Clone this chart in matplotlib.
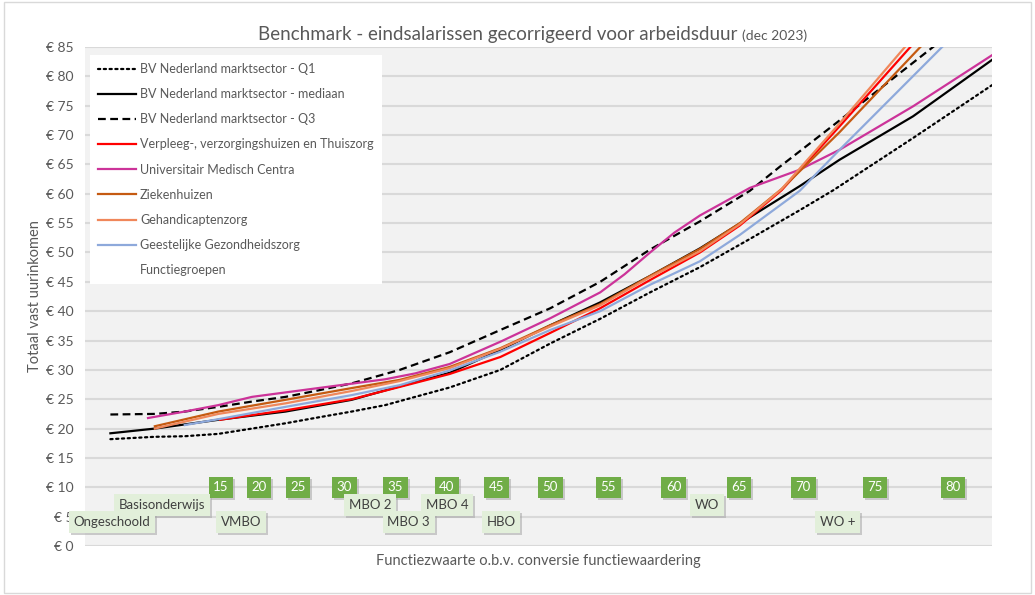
import numpy as np
import matplotlib
matplotlib.use("Agg")
import matplotlib.pyplot as plt
from matplotlib.lines import Line2D
from matplotlib.patches import Rectangle
from matplotlib.transforms import IdentityTransform

plt.rcParams['font.family'] = ['Lato', 'DejaVu Sans']
grey = '#595959'

# x = horizontal position on the chart (0..100), y = euro per hour
q1_x = [2.8, 7.7, 11.0, 14.7, 18.4, 22.1, 25.7, 29.4, 33.1, 36.4, 40.2, 45.8, 51.3, 56.8, 62.3, 67.8, 73.3, 78.8, 82.5, 91.3, 100]
q1_y = [18.2, 18.6, 18.7, 19.1, 20.0, 20.9, 21.9, 22.9, 24.0, 25.4, 27.0, 30.0, 34.5, 38.7, 43.2, 47.5, 52.3, 57.2, 60.6, 69.5, 78.5]

med_x = [2.8, 7.7, 14.7, 22.1, 29.4, 34.7, 40.2, 45.8, 51.3, 56.8, 62.3, 67.8, 73.3, 78.8, 83.2, 91.3, 100]
med_y = [19.2, 20.0, 21.5, 22.9, 24.9, 27.2, 29.5, 33.4, 37.6, 41.5, 46.0, 50.7, 56.0, 61.3, 65.8, 73.2, 82.8]

q3_x = [2.8, 7.7, 11.0, 14.7, 18.4, 22.1, 25.7, 29.4, 34.7, 40.2, 45.8, 51.3, 56.8, 62.3, 67.8, 73.3, 76.6, 83.2, 93.5, 100]
q3_y = [22.4, 22.5, 22.9, 23.7, 24.6, 25.4, 26.5, 27.7, 30.0, 33.0, 36.8, 40.5, 45.0, 50.5, 55.3, 60.5, 64.6, 72.5, 85.0, 93.0]

vvt_x = [14.9, 18.4, 22.1, 29.4, 34.7, 40.2, 45.8, 51.3, 56.8, 62.3, 67.8, 72.2, 76.8, 83.2, 91.0, 95.0]
vvt_y = [21.5, 22.3, 23.1, 25.0, 27.1, 29.3, 32.2, 36.3, 40.5, 45.3, 50.0, 54.6, 60.6, 71.5, 85.0, 92.0]

umc_x = [6.95, 11.0, 14.7, 18.4, 25.7, 33.1, 36.4, 40.2, 45.8, 51.3, 56.8, 59.5, 62.3, 65.0, 67.8, 73.3, 78.8, 83.2, 91.3, 100]
umc_y = [21.8, 22.9, 24.0, 25.4, 26.9, 28.4, 29.4, 31.0, 34.8, 38.8, 43.2, 46.3, 50.0, 53.4, 56.3, 61.0, 64.1, 67.5, 74.9, 83.6]

zkh_x = [7.7, 14.7, 22.1, 29.4, 34.7, 40.2, 45.8, 51.3, 56.8, 62.3, 67.8, 72.2, 76.8, 83.2, 92.1, 96.0]
zkh_y = [20.4, 22.9, 24.9, 26.9, 28.3, 30.5, 33.7, 37.6, 41.2, 46.0, 50.6, 55.0, 60.8, 70.5, 85.0, 91.0]

ghz_x = [7.7, 14.7, 22.1, 29.4, 34.7, 40.2, 45.8, 51.3, 56.8, 62.3, 67.8, 72.2, 76.8, 83.2, 90.4, 95.0]
ghz_y = [20.0, 22.5, 24.3, 26.4, 28.1, 30.3, 33.6, 37.4, 41.0, 45.8, 50.2, 54.8, 60.8, 72.0, 85.0, 93.0]

ggz_x = [11.0, 14.7, 22.1, 29.4, 34.7, 40.2, 45.8, 51.3, 56.8, 62.3, 67.8, 72.2, 78.8, 83.2, 94.5, 98.0]
ggz_y = [20.6, 21.6, 23.7, 25.7, 27.4, 29.9, 33.1, 36.8, 40.0, 44.5, 48.5, 53.0, 60.5, 67.5, 85.0, 90.0]

# functiezwaarte markers (green boxes)
fz_labels = ['15', '20', '25', '30', '35', '40', '45', '50', '55', '60', '65', '70', '75', '80']
fz_x = [15.0, 19.2, 23.5, 28.6, 34.2, 39.9, 45.4, 51.3, 57.7, 64.9, 72.1, 79.2, 87.1, 95.7]
fz_y = 10

# functiegroepen (light green boxes)
fg_labels = ['Ongeschoold', 'Basisonderwijs', 'VMBO', 'MBO 2', 'MBO 3', 'MBO 4', 'HBO', 'WO', 'WO +']
fg_x = [3.0, 8.5, 17.2, 31.4, 35.7, 39.9, 45.9, 68.6, 83.0]
fg_y = [4.1, 7.0, 4.1, 7.0, 4.1, 7.0, 4.1, 7.0, 4.1]

fig = plt.figure(figsize=(10.35, 5.95), dpi=100)
fig.patches.append(Rectangle((0.004, 0.004), 0.992, 0.992, transform=fig.transFigure,
                             fill=False, edgecolor='#D9D9D9', linewidth=1))
ax = fig.add_axes([85 / 1035, 1 - 546 / 595, 907 / 1035, 499 / 595])
ax.set_facecolor('#F2F2F2')

lw = 1.6
ax.plot(q1_x, q1_y, color='black', lw=lw, linestyle=(0, (1, 1.6)), dash_capstyle='round',
        label='BV Nederland marktsector - Q1')
ax.plot(med_x, med_y, color='black', lw=lw, label='BV Nederland marktsector - mediaan')
ax.plot(q3_x, q3_y, color='black', lw=lw, linestyle=(0, (3.5, 2)), label='BV Nederland marktsector - Q3')
ax.plot(vvt_x, vvt_y, color='#FF0000', lw=lw, label='Verpleeg-, verzorgingshuizen en Thuiszorg')
ax.plot(umc_x, umc_y, color='#CC3399', lw=lw, label='Universitair Medisch Centra')
ax.plot(zkh_x, zkh_y, color='#C55A11', lw=lw, label='Ziekenhuizen')
ax.plot(ghz_x, ghz_y, color='#F0875A', lw=lw, label='Gehandicaptenzorg')
ax.plot(ggz_x, ggz_y, color='#8EA9DB', lw=lw, label='Geestelijke Gezondheidszorg')

ax.set_xlim(0, 100)
ax.set_ylim(0, 85)
ax.set_yticks(range(0, 90, 5))
ax.set_yticklabels(['€ %d' % v for v in range(0, 90, 5)], color=grey, fontsize=10)
ax.set_xticks([])
ax.tick_params(axis='y', length=0, pad=8)
ax.grid(axis='y', color='#D9D9D9', linewidth=1.5)
ax.set_axisbelow(True)
for s in ax.spines.values():
    s.set_visible(False)

ax.set_ylabel('Totaal vast uurinkomen', color=grey, fontsize=10.5, labelpad=3)
ax.set_xlabel('Functiezwaarte o.b.v. conversie functiewaardering', color=grey, fontsize=10.5, labelpad=6)

boxes = []
for x, t in zip(fz_x, fz_labels):
    boxes.append(ax.text(x, fz_y, t, ha='center', va='center', fontsize=9.5, color='white', zorder=5,
                         bbox=dict(boxstyle='square,pad=0.35', fc='#70AD47', ec='none')))
for x, y, t in zip(fg_x, fg_y, fg_labels):
    boxes.append(ax.text(x, y, t, ha='center', va='center', fontsize=9.5, color='#404040', zorder=5,
                         bbox=dict(boxstyle='square,pad=0.35', fc='#E2EFDA', ec='none')))

handles, labels = ax.get_legend_handles_labels()
handles.append(Line2D([], [], color='none'))
labels.append('Functiegroepen')
leg = ax.legend(handles, labels, loc='upper left', bbox_to_anchor=(90 / 1035, 1 - 55 / 595),
                bbox_transform=fig.transFigure, borderaxespad=0, frameon=True, fancybox=False,
                facecolor='white', edgecolor='none', framealpha=1, fontsize=9,
                handlelength=3.0, handletextpad=0.35, labelspacing=1.05, borderpad=0.65)
for t in leg.get_texts():
    t.set_color(grey)

title = fig.text(258 / 1035, 1 - 40 / 595, 'Benchmark - eindsalarissen gecorrigeerd voor arbeidsduur',
                 fontsize=13.5, color=grey, va='baseline', ha='left')
fig.canvas.draw()
renderer = fig.canvas.get_renderer()
bb = title.get_window_extent(renderer)
fig.text((bb.x1 + 5) / 1035, 1 - 40 / 595, '(dec 2023)', fontsize=10, color=grey, va='baseline', ha='left')

# soft shadow under the label boxes
for t in boxes:
    b = t.get_bbox_patch().get_window_extent(renderer)
    ax.add_patch(Rectangle((b.x0 + 2, b.y0 - 2), b.width, b.height, transform=IdentityTransform(),
                           facecolor='#A6A6A6', alpha=0.55, edgecolor='none', zorder=4, clip_on=False))

fig.savefig('out.png', dpi=100)
